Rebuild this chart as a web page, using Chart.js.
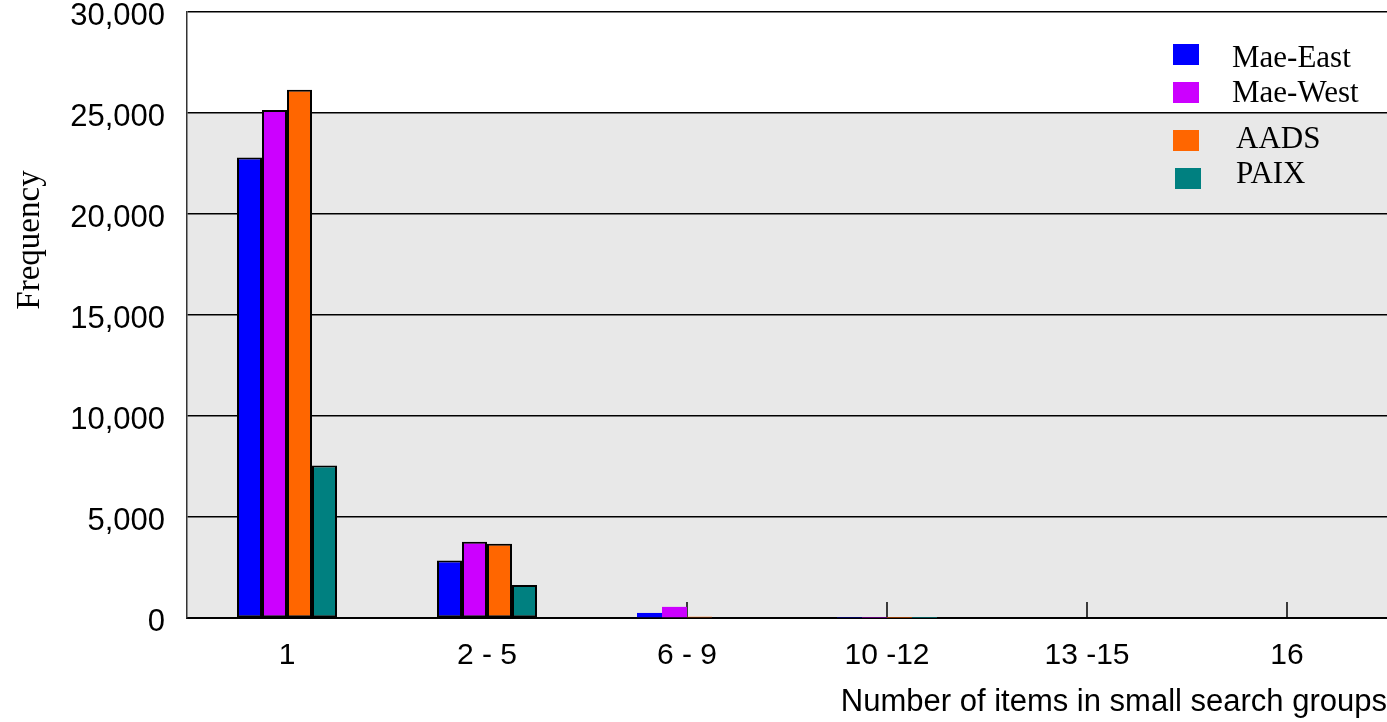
<!DOCTYPE html>
<html lang="en">
<head>
<meta charset="UTF-8">
<title>Small search groups</title>
<script src="https://cdn.jsdelivr.net/npm/chart.js"></script>
<style>
    html, body { margin: 0; padding: 0; background: #fff; }
    #wrap { width: 1387px; height: 722px; }
</style>
</head>
<body>
<div id="wrap"><canvas id="chart"></canvas></div>
<script>
// data
const groups = ['1', '2 - 5', '6 - 9', '10 -12', '13 -15', '16'];
const maeEast = [22800, 2850, 250, 20, 0, 0];
const maeWest = [25150, 3770, 550, 15, 0, 0];
const aads    = [26150, 3680, 60, 10, 0, 0];
const paix    = [7550, 1630, 0, 5, 0, 0];
const yTicks  = [0, 5000, 10000, 15000, 20000, 25000, 30000];

const SANS = "'Liberation Sans', Arial, sans-serif";
const SERIF = "'Liberation Serif', 'Times New Roman', serif";

// gray band from 0 up to 25,000, white above
const bandPlugin = {
    id: 'band',
    beforeDraw(chart) {
        const { ctx, chartArea, scales } = chart;
        ctx.save();
        ctx.fillStyle = '#ffffff';
        ctx.fillRect(0, 0, chart.width, chart.height);
        const top = scales.y.getPixelForValue(25000);
        const bottom = scales.y.getPixelForValue(0);
        ctx.fillStyle = '#e8e8e8';
        ctx.fillRect(chartArea.left, top, chartArea.right - chartArea.left, bottom - top);
        ctx.restore();
    }
};

// small marks above the axis at each category centre
const markPlugin = {
    id: 'marks',
    beforeDatasetsDraw(chart) {
        const { ctx, scales } = chart;
        const y0 = scales.y.getPixelForValue(0);
        ctx.save();
        ctx.strokeStyle = '#000';
        ctx.lineWidth = 1.5;
        groups.forEach((g, i) => {
            const x = scales.x.getPixelForValue(i);
            ctx.beginPath();
            ctx.moveTo(x, y0);
            ctx.lineTo(x, y0 - 16);
            ctx.stroke();
        });
        ctx.restore();
    }
};

// legend in the top right corner + rotated y title
const legendOffsets = [[-214, 44, -155, 59], [-214, 82, -155, 94], [-214, 130, -151, 140], [-212, 168, -151, 175]];
const extrasPlugin = {
    id: 'extras',
    afterDraw(chart) {
        const { ctx, chartArea } = chart;
        ctx.save();
        ctx.font = '31px ' + SERIF;
        ctx.textBaseline = 'middle';
        ctx.textAlign = 'left';
        chart.data.datasets.forEach((ds, i) => {
            const o = legendOffsets[i];
            ctx.fillStyle = ds.backgroundColor;
            ctx.fillRect(chartArea.right + o[0], o[1], 26, 21);
            ctx.fillStyle = '#000';
            ctx.fillText(ds.label, chartArea.right + o[2], o[3]);
        });
        ctx.font = '33px ' + SERIF;
        ctx.translate(30, 240);
        ctx.rotate(-Math.PI / 2);
        ctx.textAlign = 'center';
        ctx.fillText('Frequency', 0, 0);
        ctx.restore();
    }
};

const ctx = document.getElementById('chart').getContext('2d');
const chart = new Chart(ctx, {
    type: 'bar',
    data: {
        labels: groups,
        datasets: [
            { label: 'Mae-East', data: maeEast, backgroundColor: '#0000ff' },
            { label: 'Mae-West', data: maeWest, backgroundColor: '#cc00ff' },
            { label: 'AADS', data: aads, backgroundColor: '#ff6600' },
            { label: 'PAIX', data: paix, backgroundColor: '#008080' }
        ]
    },
    options: {
        responsive: true,
        maintainAspectRatio: false,
        animation: false,
        layout: { padding: { top: 12, left: 0, right: 0, bottom: 0 } },
        datasets: {
            bar: {
                categoryPercentage: 0.5,
                barPercentage: 1.0,
                borderColor: '#000',
                borderWidth: c => (c.raw > 1000 ? 2 : 0),
                borderSkipped: false
            }
        },
        plugins: {
            legend: { display: false },
            tooltip: { enabled: false }
        },
        scales: {
            x: {
                grid: { display: false, drawTicks: false },
                border: { color: '#000', width: 2 },
                ticks: { color: '#000', font: { family: SANS, size: 30 }, padding: 20, maxRotation: 0 },
                title: {
                    display: true,
                    text: 'Number of items in small search groups',
                    align: 'end',
                    color: '#000',
                    font: { family: SANS, size: 31 },
                    padding: { top: 0, bottom: 1 }
                },
                afterFit(scale) { scale.height = 104; }
            },
            y: {
                min: 0,
                max: 30000,
                afterBuildTicks(scale) { scale.ticks = yTicks.map(v => ({ value: v })); },
                grid: { color: '#000', lineWidth: 1.5, drawTicks: false },
                border: { color: '#333', width: 1.5 },
                ticks: {
                    color: '#000',
                    font: { family: SANS, size: 31 },
                    padding: 22,
                    labelOffset: 4,
                    callback: v => v.toLocaleString('en-US')
                },
                afterFit(scale) {
                    scale.width = 187;
                    scale.paddingTop = 0;
                    scale.paddingBottom = 0;
                }
            }
        }
    },
    plugins: [bandPlugin, markPlugin, extrasPlugin]
});
</script>
</body>
</html>
